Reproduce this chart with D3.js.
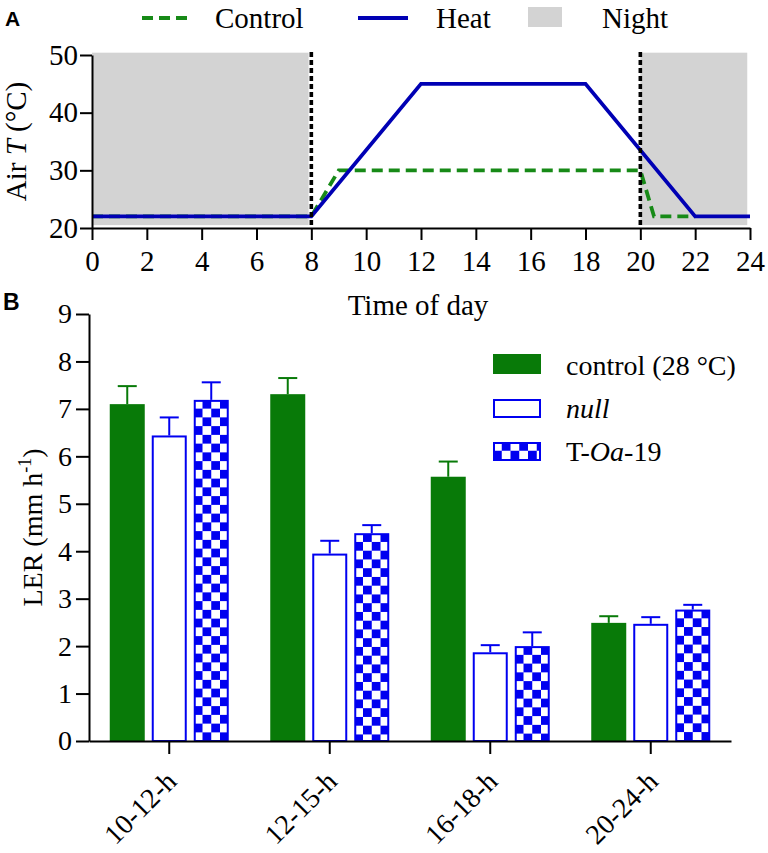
<!DOCTYPE html>
<html><head><meta charset="utf-8">
<script src="https://cdn.jsdelivr.net/npm/d3@7"></script>
<style>body{margin:0;background:#fff}</style>
</head><body>
<script>
// ---- Panel A data ----
const hourTicks = [0,2,4,6,8,10,12,14,16,18,20,22,24];
const tempTicks = [20,30,40,50];
const heatHours = [0,8,12,18,22,24];
const heatTemp  = [22,22,45,45,22,22];
const ctrlHours = [0,8,9,20,20.5,22];
const ctrlTemp  = [22,22,30,30,22,22];
const nightStart = [0,20];
const nightEnd   = [7.9,23.9];
const nightLow = 20.5, nightHigh = 50.4;
const lightsMarks = [8,20];

// ---- Panel B data ----
const categories = ["10-12-h","12-15-h","16-18-h","20-24-h"];
const seriesNames = ["control","null","toa"];
const controlVals = [7.10,7.31,5.57,2.49];
const controlErr  = [0.38,0.34,0.32,0.14];
const nullVals    = [6.44,3.95,1.87,2.47];
const nullErr     = [0.38,0.27,0.15,0.14];
const toaVals     = [7.19,4.38,2.00,2.77];
const toaErr      = [0.37,0.17,0.29,0.10];
const lerTicks = [0,1,2,3,4,5,6,7,8,9];

const serif = "'Liberation Serif','Times New Roman',serif";
const sans = "'Liberation Sans',Arial,sans-serif";
const GREEN = "#087a08", BLUE = "#0000f0", NAVY = "#0000b4", DGREEN = "#178a17";

const svg = d3.select("body").append("svg").attr("width",768).attr("height",853);
const defs = svg.append("defs");

// ================= Panel A =================
const xA = d3.scaleLinear().domain([0,24]).range([92,750]);
const yA = d3.scaleLinear().domain([20,50]).range([228,55]);

const gA = svg.append("g");
gA.selectAll("rect.night").data(nightStart.map((s,i)=>[s,nightEnd[i]])).join("rect")
  .attr("x",d=>xA(d[0])).attr("width",d=>xA(d[1])-xA(d[0]))
  .attr("y",yA(nightHigh)).attr("height",yA(nightLow)-yA(nightHigh))
  .attr("fill","#d3d3d3");

const line = d3.line().x(d=>xA(d[0])).y(d=>yA(d[1]));
gA.append("path").datum(ctrlHours.map((h,i)=>[h,ctrlTemp[i]]))
  .attr("d",line).attr("fill","none").attr("stroke",DGREEN).attr("stroke-width",3.8)
  .attr("stroke-dasharray","11,6");
gA.append("path").datum(heatHours.map((h,i)=>[h,heatTemp[i]]))
  .attr("d",line).attr("fill","none").attr("stroke",NAVY).attr("stroke-width",3.8)
  .attr("stroke-linejoin","miter");

const axXA = gA.append("g").attr("transform","translate(0,228)")
  .call(d3.axisBottom(xA).tickValues(hourTicks).tickSize(12).tickPadding(10).tickSizeOuter(0));
const axYA = gA.append("g").attr("transform","translate(92,0)")
  .call(d3.axisLeft(yA).tickValues(tempTicks).tickSize(12).tickPadding(2).tickSizeOuter(0));
[axXA,axYA].forEach(a=>{
  a.selectAll("path,line").attr("stroke","#000").attr("stroke-width",2);
  a.selectAll("text").attr("font-family",serif).attr("font-size",29).attr("fill","#000");
});

gA.selectAll("line.mark").data(lightsMarks).join("line")
  .attr("x1",d=>xA(d)).attr("x2",d=>xA(d)).attr("y1",yA(50)-3).attr("y2",yA(20))
  .attr("stroke","#000").attr("stroke-width",3.6).attr("stroke-dasharray","5,3");

gA.append("text").attr("x",xA(12)-3).attr("y",315).attr("text-anchor","middle")
  .attr("font-family",serif).attr("font-size",29).text("Time of day");
const yt = gA.append("text").attr("transform",`translate(26,${(yA(20)+yA(50))/2}) rotate(-90)`)
  .attr("text-anchor","middle").attr("font-family",serif).attr("font-size",29);
yt.append("tspan").text("Air ");
yt.append("tspan").attr("font-style","italic").text("T");
yt.append("tspan").text(" (°C)");

// top legend
const lg = svg.append("g").attr("font-family",serif).attr("font-size",29);
lg.append("line").attr("x1",142).attr("x2",192).attr("y1",18).attr("y2",18)
  .attr("stroke",DGREEN).attr("stroke-width",3.8).attr("stroke-dasharray","11,6");
lg.append("text").attr("x",215).attr("y",28).text("Control");
lg.append("line").attr("x1",358).attr("x2",408).attr("y1",18).attr("y2",18)
  .attr("stroke",NAVY).attr("stroke-width",3.8);
lg.append("text").attr("x",436).attr("y",28).text("Heat");
lg.append("rect").attr("x",528).attr("y",7).attr("width",34).attr("height",20).attr("fill","#d3d3d3");
lg.append("text").attr("x",602).attr("y",28).text("Night");

svg.append("text").attr("x",5).attr("y",26).attr("font-family",sans).attr("font-weight","bold")
  .attr("font-size",21).text("A");

// ================= Panel B =================
const xB = d3.scaleBand().domain(categories).range([89,731]);
const inner = d3.scaleBand().domain(seriesNames).range([-63,63]).paddingInner(1/6).paddingOuter(1/12);
const yB = d3.scaleLinear().domain([0,9]).range([741,314]);

const vals = {control:controlVals, null:nullVals, toa:toaVals};
const errs = {control:controlErr, null:nullErr, toa:toaErr};
const data = [];
categories.forEach((c,i)=>seriesNames.forEach(s=>data.push({c,s,i,v:vals[s][i],e:errs[s][i]})));

const bx = d=>xB(d.c)+xB.bandwidth()/2+inner(d.s);
const sq = inner.bandwidth()/4;

function makeChecker(id,x,y){
  const p = defs.append("pattern").attr("id",id).attr("patternUnits","userSpaceOnUse")
    .attr("x",x).attr("y",y).attr("width",2*sq).attr("height",2*sq);
  p.append("rect").attr("width",2*sq).attr("height",2*sq).attr("fill","#fff");
  p.append("rect").attr("x",sq).attr("y",0).attr("width",sq).attr("height",sq).attr("fill",BLUE);
  p.append("rect").attr("x",0).attr("y",sq).attr("width",sq).attr("height",sq).attr("fill",BLUE);
}
data.filter(d=>d.s==="toa").forEach(d=>makeChecker("chk"+d.i,bx(d),yB(d.v)));
makeChecker("chkLeg",493,442);

const fillOf = d=> d.s==="control"?GREEN : d.s==="null"?"#fff" : `url(#chk${d.i})`;
const gB = svg.append("g");

// error bars
const eb = gB.selectAll("g.err").data(data).join("g")
  .attr("stroke",d=>d.s==="control"?GREEN:BLUE).attr("stroke-width",2);
eb.append("line").attr("x1",d=>bx(d)+inner.bandwidth()/2).attr("x2",d=>bx(d)+inner.bandwidth()/2)
  .attr("y1",d=>yB(d.v)).attr("y2",d=>yB(d.v+d.e));
eb.append("line").attr("x1",d=>bx(d)+inner.bandwidth()/2-9.5).attr("x2",d=>bx(d)+inner.bandwidth()/2+9.5)
  .attr("y1",d=>yB(d.v+d.e)).attr("y2",d=>yB(d.v+d.e));

gB.selectAll("rect.bar").data(data).join("rect")
  .attr("x",d=>d.s==="control"?bx(d):bx(d)+1).attr("width",d=>d.s==="control"?inner.bandwidth():inner.bandwidth()-2)
  .attr("y",d=>d.s==="control"?yB(d.v):yB(d.v)+1)
  .attr("height",d=>d.s==="control"?yB(0)-yB(d.v):yB(0)-yB(d.v)-1)
  .attr("fill",fillOf)
  .attr("stroke",d=>d.s==="control"?"none":BLUE).attr("stroke-width",2);

const axYB = gB.append("g").attr("transform","translate(89,0)")
  .call(d3.axisLeft(yB).tickValues(lerTicks).tickSize(13).tickPadding(4).tickSizeOuter(0));
const axXB = gB.append("g").attr("transform","translate(0,741)")
  .call(d3.axisBottom(xB).tickSize(13).tickSizeOuter(0).tickFormat(""));
[axXB,axYB].forEach(a=>{
  a.selectAll("path,line").attr("stroke","#000").attr("stroke-width",2);
  a.selectAll("text").attr("font-family",serif).attr("font-size",28).attr("fill","#000");
});
axXB.selectAll(".tick").append("text")
  .attr("class","cat")
  .attr("transform","translate(9,42) rotate(-45)")
  .attr("x",0).attr("y",0).attr("text-anchor","end").attr("font-family",serif).attr("font-size",28)
  .attr("fill","#000")
  .text(d=>d);

const lt = gB.append("text").attr("transform",`translate(42,${(yB(0)+yB(9))/2}) rotate(-90)`)
  .attr("text-anchor","middle").attr("font-family",serif).attr("font-size",28);
lt.append("tspan").text("LER (mm h");
lt.append("tspan").attr("dy",-11).attr("font-size",18).text("-1");
lt.append("tspan").attr("dy",11).text(")");

// legend B
const lb = svg.append("g").attr("font-family",serif).attr("font-size",28);
lb.append("rect").attr("x",493).attr("y",354).attr("width",48).attr("height",20).attr("fill",GREEN);
lb.append("text").attr("x",566).attr("y",375).text("control (28 °C)");
lb.append("rect").attr("x",494).attr("y",400).attr("width",46).attr("height",17).attr("fill","#fff")
  .attr("stroke",BLUE).attr("stroke-width",2);
lb.append("text").attr("x",566).attr("y",418).attr("font-style","italic").text("null");
lb.append("rect").attr("x",494).attr("y",443).attr("width",46).attr("height",17).attr("fill","url(#chkLeg)")
  .attr("stroke",BLUE).attr("stroke-width",2);
const t3 = lb.append("text").attr("x",566).attr("y",461);
t3.append("tspan").text("T-");
t3.append("tspan").attr("font-style","italic").text("Oa");
t3.append("tspan").text("-19");

svg.append("text").attr("x",3).attr("y",310).attr("font-family",sans).attr("font-weight","bold")
  .attr("font-size",23).text("B");
</script>
</body></html>
